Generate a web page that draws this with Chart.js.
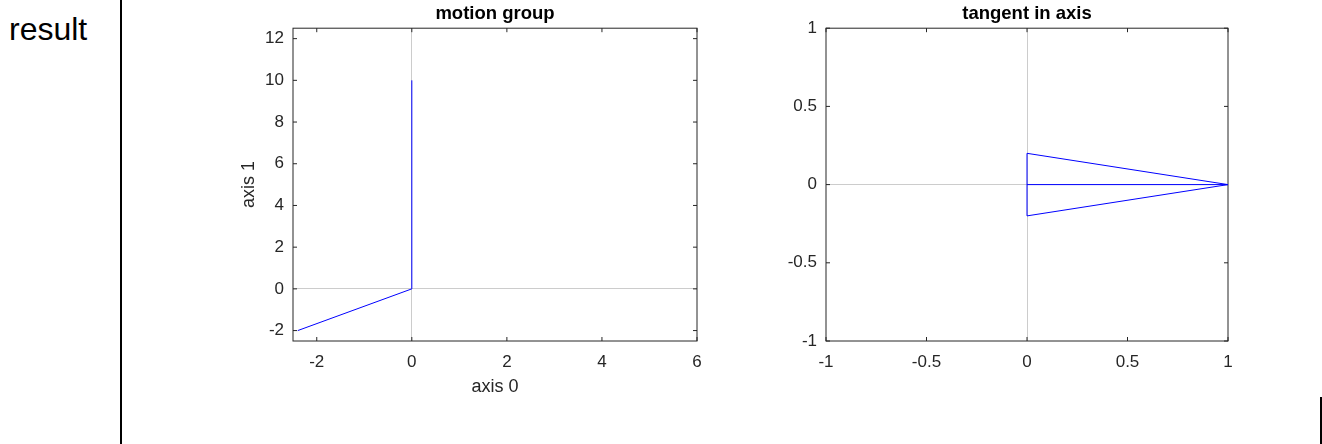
<!DOCTYPE html>
<html>
<head>
<meta charset="utf-8">
<script src="https://cdn.jsdelivr.net/npm/chart.js@4.4.1/dist/chart.umd.min.js"></script>
<style>
  body { margin: 0; background: #fff; }
  #page { position: relative; width: 1322px; height: 444px; overflow: hidden; font-family: "Liberation Sans", Arial, sans-serif; }
  #label { position: absolute; left: 9px; top: 13px; font-size: 32px; line-height: 32px; color: #000; }
  .rule { position: absolute; background: #000; width: 2px; }
  canvas { position: absolute; top: 0; }
</style>
</head>
<body>
<div id="page">
  <div id="label">result</div>
  <div class="rule" style="left:120px; top:0; height:444px;"></div>
  <div class="rule" style="left:1320px; top:397px; height:47px;"></div>
  <canvas id="motionChart" width="540" height="444" style="left:180px;"></canvas>
  <canvas id="tangentChart" width="510" height="444" style="left:740px;"></canvas>
</div>
<script>
// motion group
var motionX = [-2.4, 0, 0];
var motionY = [-2, 0, 10];
var motionXTicks = [-2, 0, 2, 4, 6];
var motionYTicks = [-2, 0, 2, 4, 6, 8, 10, 12];

// tangent in axis
var tangentX = [0, 1, 0, 0];
var tangentY = [0.2, 0, -0.2, 0.2];
var tangentAxisX = [0, 1];
var tangentAxisY = [0, 0];
var tangentTicks = [-1, -0.5, 0, 0.5, 1];

var axisColor = "#262626";
var zeroColor = "#cccccc";

function points(xs, ys) {
  return xs.map(function (x, i) {
    return { x: x, y: ys[i] };
  });
}

// box round the plot and little inward tick marks on all four sides
var framePlugin = {
  id: "frame",
  beforeDatasetsDraw: function (chart) {
    var ctx = chart.ctx;
    var a = chart.chartArea;
    var sx = chart.scales.x;
    var sy = chart.scales.y;
    ctx.save();
    ctx.strokeStyle = axisColor;
    ctx.lineWidth = 1;
    ctx.strokeRect(a.left, a.top, a.right - a.left, a.bottom - a.top);
    ctx.beginPath();
    sx.ticks.forEach(function (t) {
      var p = sx.getPixelForValue(t.value);
      ctx.moveTo(p, a.bottom);
      ctx.lineTo(p, a.bottom - 4);
      ctx.moveTo(p, a.top);
      ctx.lineTo(p, a.top + 4);
    });
    sy.ticks.forEach(function (t) {
      var p = sy.getPixelForValue(t.value);
      ctx.moveTo(a.left, p);
      ctx.lineTo(a.left + 4, p);
      ctx.moveTo(a.right, p);
      ctx.lineTo(a.right - 4, p);
    });
    ctx.stroke();
    ctx.restore();
  },
};

function axis(min, max, tickValues, size, pad, titleText, titlePad, isX) {
  return {
    type: "linear",
    position: isX ? "bottom" : "left",
    min: min,
    max: max,
    afterBuildTicks: function (scale) {
      scale.ticks = tickValues.map(function (v) {
        return { value: v };
      });
    },
    afterFit: function (scale) {
      if (isX) scale.height = size;
      else scale.width = size;
    },
    grid: {
      drawTicks: false,
      lineWidth: 1,
      color: function (c) {
        return c.tick && c.tick.value === 0 ? zeroColor : "rgba(0,0,0,0)";
      },
    },
    border: { display: false },
    ticks: {
      padding: pad,
      color: axisColor,
      font: { family: "Liberation Sans", size: 17 },
      callback: function (v) {
        return String(v);
      },
    },
    title: {
      display: titleText !== "",
      text: titleText,
      color: axisColor,
      font: { family: "Liberation Sans", size: 18 },
      padding: titlePad,
    },
  };
}

function baseOptions(titleText, rightPad, xScale, yScale) {
  return {
    responsive: false,
    animation: false,
    devicePixelRatio: 1,
    layout: { padding: { left: 0, right: rightPad, top: 0, bottom: 0 } },
    plugins: {
      legend: { display: false },
      tooltip: { enabled: false },
      title: {
        display: true,
        text: titleText,
        color: "#000",
        fullSize: false,
        font: { family: "Liberation Sans", size: 18.5, weight: "bold" },
        padding: { top: 3, bottom: 3 },
      },
    },
    scales: { x: xScale, y: yScale },
  };
}

var lineStyle = {
  borderColor: "#0000ff",
  borderWidth: 1,
  pointRadius: 0,
  showLine: true,
  tension: 0,
  clip: false,
};

var motionChart = new Chart(document.getElementById("motionChart").getContext("2d"), {
  type: "scatter",
  data: {
    datasets: [Object.assign({ data: points(motionX, motionY) }, lineStyle)],
  },
  options: baseOptions(
    "motion group",
    23,
    axis(-2.5, 6, motionXTicks, 103, 11, "axis 0", { top: 0, bottom: 46 }, true),
    axis(-2.5, 12.5, motionYTicks, 113, 9, "axis 1", { top: 58, bottom: 0 }, false)
  ),
  plugins: [framePlugin],
});

var tangentChart = new Chart(document.getElementById("tangentChart").getContext("2d"), {
  type: "scatter",
  data: {
    datasets: [
      Object.assign({ data: points(tangentX, tangentY) }, lineStyle),
      Object.assign({ data: points(tangentAxisX, tangentAxisY) }, lineStyle),
    ],
  },
  options: baseOptions(
    "tangent in axis",
    22,
    axis(-1, 1, tangentTicks, 103, 11, "", 0, true),
    axis(-1, 1, tangentTicks, 86, 9, "", 0, false)
  ),
  plugins: [framePlugin],
});
</script>
</body>
</html>
